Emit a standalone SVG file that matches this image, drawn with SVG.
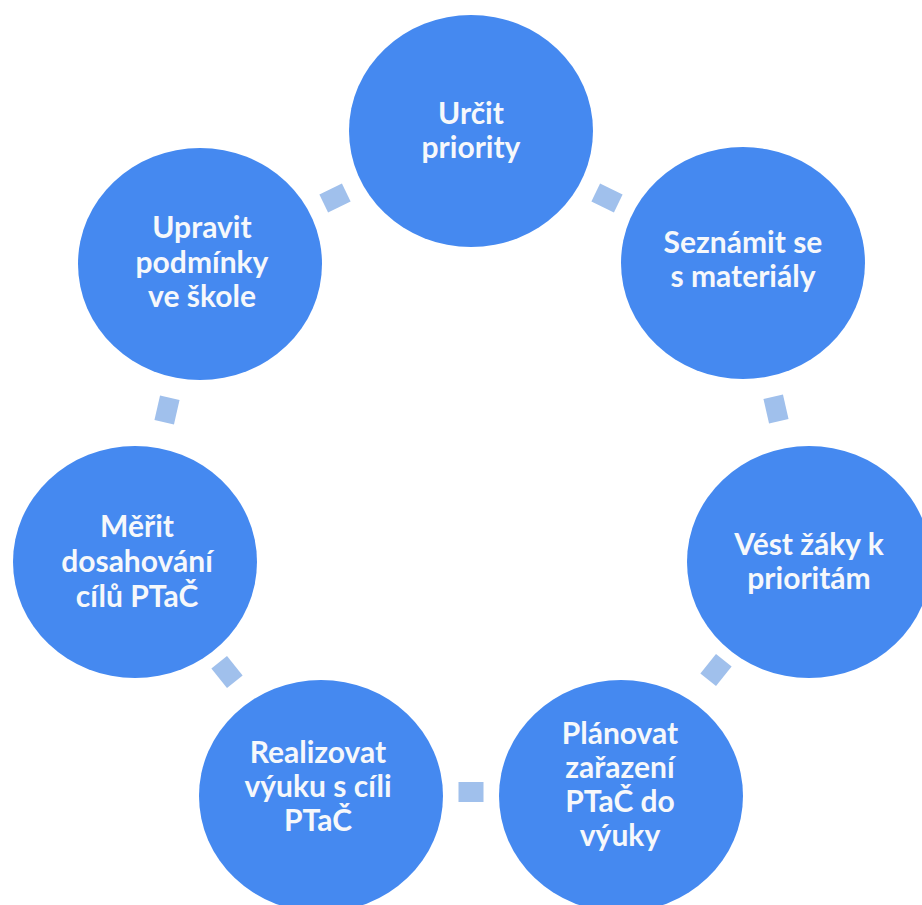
<svg xmlns="http://www.w3.org/2000/svg" width="922" height="905" viewBox="0 0 922 905">
  <style>
    .node { fill: #4589F0; }
    .lbl { font-family: "Lato", "Open Sans", "Liberation Sans", sans-serif; font-weight: 700; font-size: 30px; fill: #F6F8FB; text-anchor: middle; }
    .conn { fill: #A0C0EC; }
  </style>
  <rect width="922" height="905" fill="#FFFFFF"/>
  <g id="connectors">
    <rect class="conn" x="-12.5" y="-10" width="25" height="20" transform="translate(335,198) rotate(-25.7)"/>
    <rect class="conn" x="-12.5" y="-10" width="25" height="20" transform="translate(607,198) rotate(25.7)"/>
    <rect class="conn" x="-12.5" y="-10" width="25" height="20" transform="translate(776,409) rotate(77.1)"/>
    <rect class="conn" x="-12.5" y="-10" width="25" height="20" transform="translate(716,670) rotate(128.6)"/>
    <rect class="conn" x="-12.5" y="-10" width="25" height="20" transform="translate(471,792) rotate(180)"/>
    <rect class="conn" x="-12.5" y="-10" width="25" height="20" transform="translate(227,672) rotate(231.4)"/>
    <rect class="conn" x="-12.5" y="-10" width="25" height="20" transform="translate(167,410) rotate(282.9)"/>
  </g>
  <g id="n1">
    <ellipse class="node" cx="471" cy="131" rx="122" ry="116"/>
    <text class="lbl" x="471" y="124">Určit</text>
    <text class="lbl" x="471" y="158">priority</text>
  </g>
  <g id="n2">
    <ellipse class="node" cx="743" cy="263" rx="122" ry="116"/>
    <text class="lbl" x="743" y="253">Seznámit se</text>
    <text class="lbl" x="743" y="287">s materiály</text>
  </g>
  <g id="n3">
    <ellipse class="node" cx="809" cy="562" rx="122" ry="116"/>
    <text class="lbl" x="809" y="555">Vést žáky k</text>
    <text class="lbl" x="809" y="589">prioritám</text>
  </g>
  <g id="n4">
    <ellipse class="node" cx="621" cy="796" rx="122" ry="116"/>
    <text class="lbl" x="620" y="744">Plánovat</text>
    <text class="lbl" x="620" y="778">zařazení</text>
    <text class="lbl" x="620" y="812">PTaČ do</text>
    <text class="lbl" x="620" y="846">výuky</text>
  </g>
  <g id="n5">
    <ellipse class="node" cx="321" cy="796" rx="122" ry="116"/>
    <text class="lbl" x="318" y="763">Realizovat</text>
    <text class="lbl" x="318" y="797">výuku s cíli</text>
    <text class="lbl" x="318" y="831">PTaČ</text>
  </g>
  <g id="n6">
    <ellipse class="node" cx="135" cy="562" rx="122" ry="116"/>
    <text class="lbl" x="137" y="537">Měřit</text>
    <text class="lbl" x="137" y="572">dosahování</text>
    <text class="lbl" x="137" y="607">cílů PTaČ</text>
  </g>
  <g id="n7">
    <ellipse class="node" cx="200" cy="264" rx="122" ry="116"/>
    <text class="lbl" x="202" y="238">Upravit</text>
    <text class="lbl" x="202" y="273">podmínky</text>
    <text class="lbl" x="202" y="307">ve škole</text>
  </g>
</svg>
